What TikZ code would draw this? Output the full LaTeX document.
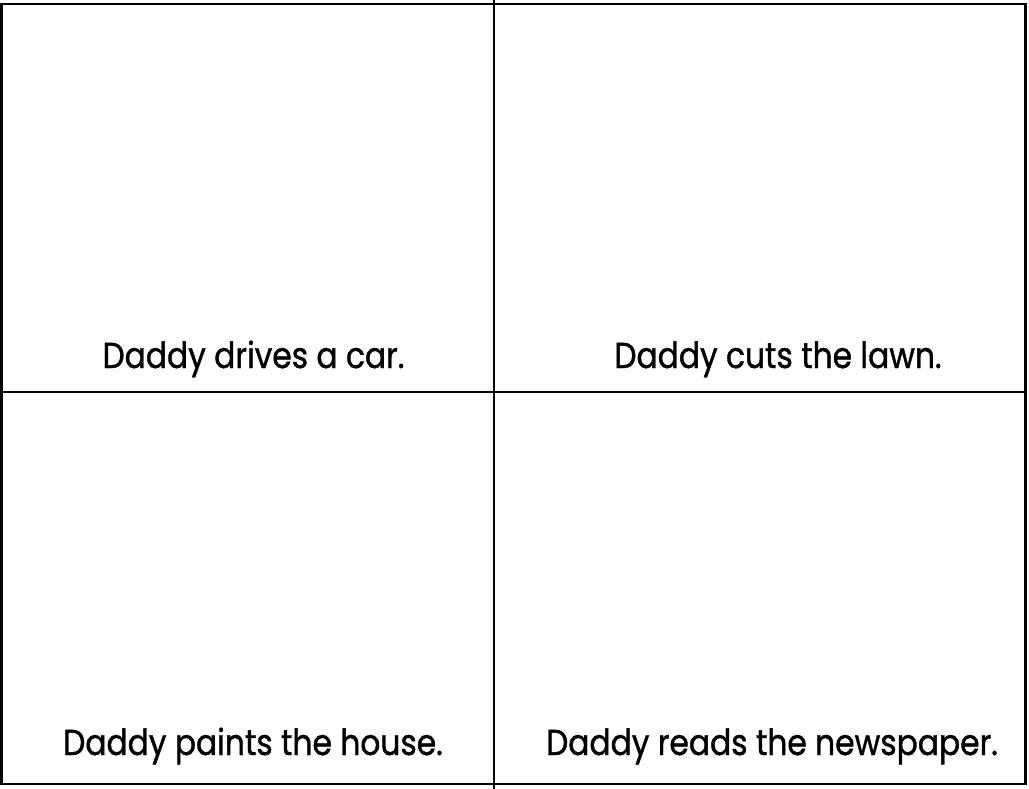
\documentclass[tikz,border=0pt]{standalone}
\usepackage{fontspec}
\usepackage{graphicx}
\setmainfont{Poppins}
\newfontfamily\capfont{Poppins}[FakeBold=1.2]
\newcommand{\captxt}[1]{\scalebox{0.87}[1]{#1}}
\begin{document}
\begin{tikzpicture}[x=1pt,y=-1pt,
  gridline/.style={line width=2.6pt,black},
  caption/.style={anchor=base,inner sep=0pt,font=\capfont\fontsize{36}{38}\selectfont}]
\useasboundingbox (0,0) rectangle (1029,789);
\draw[gridline] (1.5,4) rectangle (1025.5,784);
\draw[gridline] (1.5,392) -- (1025.5,392);
\draw[gridline] (494,0) -- (494,789);
\node[caption] (t1) at (253.5,368) {\captxt{Daddy drives a car.}};
\node[caption] (t2) at (778,368) {\captxt{Daddy cuts the lawn.}};
\node[caption] (t3) at (253,755) {\captxt{Daddy paints the house.}};
\node[caption] (t4) at (772,755) {\captxt{Daddy reads the newspaper.}};
\end{tikzpicture}
\end{document}
